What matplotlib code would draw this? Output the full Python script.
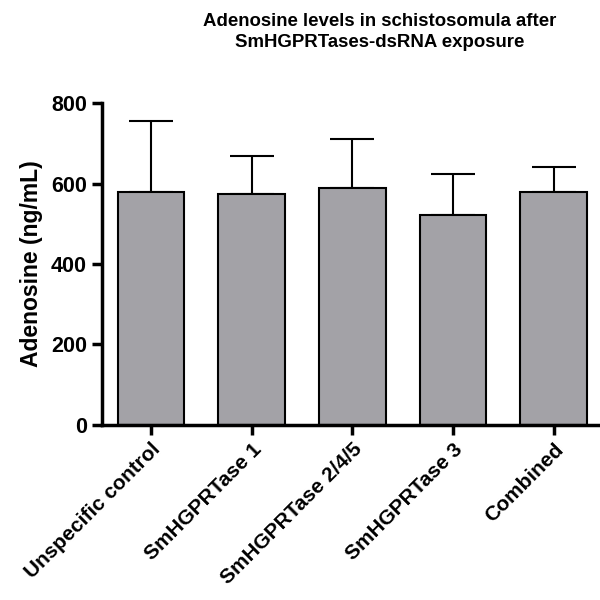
import matplotlib.pyplot as plt
import numpy as np

plt.rcParams["font.family"] = ["Liberation Sans", "DejaVu Sans"]
plt.rcParams["font.weight"] = "bold"

CATEGORIES = [
    "Unspecific control",
    "SmHGPRTase 1",
    "SmHGPRTase 2/4/5",
    "SmHGPRTase 3",
    "Combined",
]
MEANS  = [579, 574, 590, 521, 580]
ERRORS = [176, 94, 121, 103, 62]
Y_TICKS = [0, 200, 400, 600, 800]

BAR_COLOR = "#a3a2a7"


def main():
    fig = plt.figure(figsize=(6, 6), dpi=100)
    ax = fig.add_axes([0.1695, 0.2917, 0.8305, 0.5366])

    x = np.arange(len(CATEGORIES))
    ax.bar(
        x,
        MEANS,
        width     = 0.66,
        color     = BAR_COLOR,
        edgecolor = "black",
        linewidth = 1.5,
        zorder    = 2,
    )
    ax.errorbar(
        x,
        MEANS,
        yerr       = [np.zeros(len(MEANS)), ERRORS],
        fmt        = "none",
        ecolor     = "black",
        elinewidth = 1.5,
        capsize    = 16,
        capthick   = 1.5,
        zorder     = 1,
    )

    ax.set_xlim(-0.49, 4.46)
    ax.set_ylim(0, 800)
    ax.set_yticks(Y_TICKS)
    ax.set_xticks(x)
    ax.set_xticklabels(
        CATEGORIES,
        rotation      = 45,
        ha            = "right",
        rotation_mode = "anchor",
        fontsize      = 15,
        fontweight    = "bold",
    )
    ax.tick_params(axis="y", labelsize=15.5, width=2.5, length=7)
    ax.tick_params(axis="x", width=2.5, length=7)
    for lbl in ax.get_yticklabels():
        lbl.set_fontweight("bold")

    for side in ["top", "right"]:
        ax.spines[side].set_visible(False)
    for side in ["left", "bottom"]:
        ax.spines[side].set_linewidth(2.5)

    ax.set_ylabel("Adenosine (ng/mL)", fontsize=16.5, fontweight="bold", labelpad=6)

    fig.text(
        0.633, 0.947,
        "Adenosine levels in schistosomula after\nSmHGPRTases-dsRNA exposure",
        ha          = "center",
        va          = "center",
        fontsize    = 13.4,
        fontweight  = "bold",
        linespacing = 1.3,
    )

    fig.savefig("out.png", dpi=100)
    plt.close(fig)


if __name__ == "__main__":
    main()
